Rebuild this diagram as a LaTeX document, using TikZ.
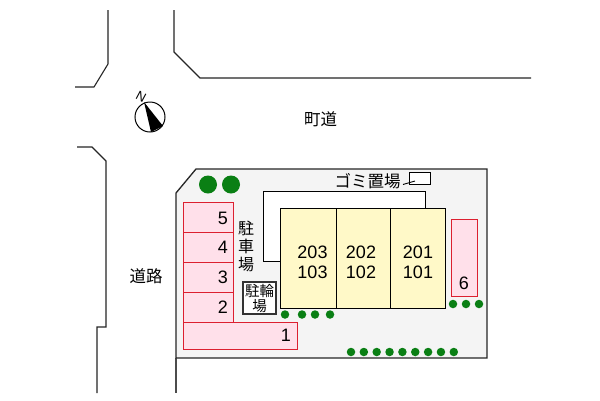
\documentclass[tikz,border=0pt]{standalone}
\usepackage{fontspec}
\setmainfont{Liberation Sans}
\newfontfamily\cjk{Noto Sans CJK JP}
\definecolor{lotgray}{HTML}{F4F4F4}
\definecolor{parkpink}{HTML}{FFE0EA}
\definecolor{parkred}{HTML}{DC2030}
\definecolor{bldg}{HTML}{FFF9C8}
\definecolor{treegreen}{HTML}{0A7F14}
\tikzset{
  road/.style={draw=black!85,line width=1.1pt},
  slot/.style={draw=parkred,fill=parkpink,line width=1.2pt,inner sep=0pt,anchor=north west},
  flat/.style={draw=black,fill=bldg,line width=1pt,inner sep=0pt,anchor=north west},
  num/.style={font=\fontsize{18}{20}\selectfont,inner sep=0pt},
  unit/.style={font=\fontsize{18}{20}\selectfont,inner sep=0pt,align=center},
  jp/.style={font=\cjk\fontsize{16.5}{18}\selectfont,inner sep=0pt,align=center},
  shrub/.style={circle,fill=treegreen,inner sep=0pt,minimum size=8.5pt},
  bigtree/.style={circle,fill=treegreen,inner sep=0pt,minimum size=18pt},
}
\begin{document}
\begin{tikzpicture}[x=1pt,y=-1pt]
\useasboundingbox (0,0) rectangle (600,400);
\fill[white] (0,0) rectangle (600,400);
% roads
\draw[road] (108,10) -- (108,64) -- (94,87) -- (75,87);
\draw[road] (174,10) -- (174,52) -- (200,78) -- (531,78);
\draw[road] (77,147) -- (92,147) -- (106,161) -- (106,327) -- (97,327) -- (97,393);
\draw[road,draw=black!70] (176,358) -- (176,393);
% lot
\draw[fill=lotgray,draw=black!85,line width=1.3pt] (176,193) -- (196,169) -- (487,169) -- (487,358) -- (176,358) -- cycle;
% compass
\node[circle,draw=black,line width=1pt,fill=white,minimum size=30pt,inner sep=0pt] (compass) at (150,117) {};
\fill[black] (144,102) -- (151,132) -- (163,126) -- cycle;
\node[font=\fontsize{13}{13}\selectfont,inner sep=0pt,rotate=-28] (north) at (141,96.5) {N};
% parking
\node[slot,minimum width=50pt,minimum height=30pt] (p5) at (183,201.5) {};
\node[slot,minimum width=50pt,minimum height=30pt] (p4) at (183,231.5) {};
\node[slot,minimum width=50pt,minimum height=30pt] (p3) at (183,261.5) {};
\node[slot,minimum width=50pt,minimum height=30pt] (p2) at (183,291.5) {};
\node[slot,minimum width=114pt,minimum height=27pt] (p1) at (183,321.5) {};
\node[slot,line width=1.5pt,minimum width=26pt,minimum height=77pt] (p6) at (450.5,218.5) {};
\node[num] at (223,218) {5};
\node[num] at (223,247) {4};
\node[num] at (223,277) {3};
\node[num] at (223,307) {2};
\node[num] at (286,335.5) {1};
\node[num] at (464,283) {6};
% white outline
\draw[fill=white,draw=black,line width=0.9pt] (263,191) rectangle (425,261);
% buildings
\node[flat,minimum width=55.5pt,minimum height=100.5pt] (u1) at (280,207.5) {};
\node[flat,minimum width=54.5pt,minimum height=100.5pt] (u2) at (335.5,207.5) {};
\node[flat,minimum width=54.5pt,minimum height=100.5pt] (u3) at (390,207.5) {};
\node[unit] at (312.5,262) {203\\103};
\node[unit] at (361,262) {202\\102};
\node[unit] at (418,262) {201\\101};
% bike
\node[draw=black!80,fill=white,line width=1.1pt,minimum width=33pt,minimum height=32pt,inner sep=0pt,align=center,font=\cjk\fontsize{14.5}{15}\selectfont] (bike) at (259.5,298) {駐輪\\場};
% trash
\node[draw=black,fill=white,line width=0.9pt,minimum width=21pt,minimum height=12pt,inner sep=0pt] (trash) at (419.5,178) {};
\coordinate (trashin) at (415,181);
\coordinate (trashend) at (403,184.5);
\draw[black,line width=0.9pt] (trashin) -- (trashend);
% text
\node[jp] at (367.5,181) {ゴミ置場};
\node[jp,font=\cjk\fontsize{16}{18}\selectfont] at (246,246) {駐\\車\\場};
\node[jp] at (320.5,119) {町道};
\node[jp] at (146,276) {道路};
% trees
\node[bigtree] at (208,184.5) {};
\node[bigtree] at (231,184.5) {};
\foreach \x in {285,302,315,330} \node[shrub] at (\x,314.5) {};
\foreach \x in {453,466,479} \node[shrub] at (\x,304) {};
\foreach \i in {0,...,8} \node[shrub] at ({351+12.85*\i},352) {};
\end{tikzpicture}
\end{document}
